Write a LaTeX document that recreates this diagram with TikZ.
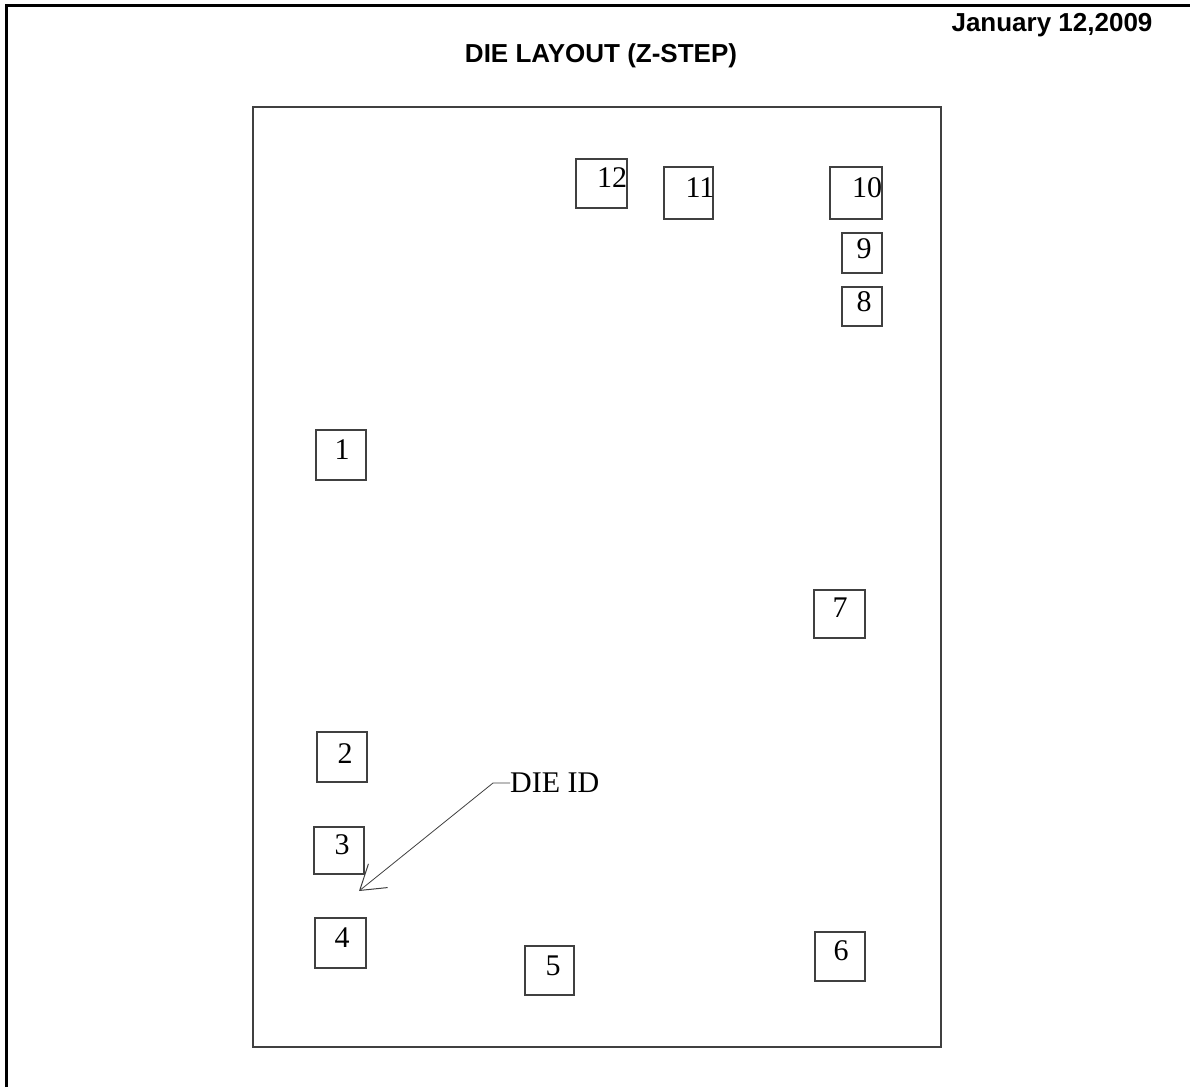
\documentclass[tikz,border=0pt]{standalone}
\usepackage{fontspec}
\setmainfont{Liberation Serif}
\newfontfamily\headfont{Liberation Sans Bold}
\usetikzlibrary{arrows.meta}

\begin{document}
\begin{tikzpicture}[x=1pt,y=-1pt,
  frame/.style={line width=3pt,black},
  dieline/.style={line width=1.6pt,black!75},
  padline/.style={line width=1.5pt,black!75},
  padnum/.style={inner sep=0pt,font=\fontsize{30}{30}\selectfont},
  heading/.style={inner sep=0pt,anchor=base,font=\headfont\fontsize{26}{30}\selectfont},
  idarrow/.style={line width=0.8pt,black!75,-{Straight Barb[angle=66:28pt,line width=1pt]}}]

\useasboundingbox (0,0) rectangle (1190,1087);
\draw[frame] (6,1087) -- (6,5) -- (1190,5);

\node[heading] (title) at (601,62) {DIE LAYOUT (Z-STEP)};
\node[heading] (date) at (1052,31) {January 12,2009};

\draw[dieline] (253,107) rectangle (941,1047);

\foreach \n/\xa/\ya/\xb/\yb/\lx/\ly in {
    12/576/159/627/208/612/178, 11/664/167/713/219/700/188,
    10/830/167/882/219/867/188, 9/842/233/882/273/864/249,
    8/842/287/882/326/864/302, 1/316/430/366/480/342/450,
    7/814/590/865/638/840/608, 2/317/732/367/782/345/754,
    3/314/827/364/874/342/845, 4/315/918/366/968/342/938,
    5/525/946/574/995/553/966, 6/815/932/865/981/841/951} {
    \draw[padline] (\xa,\ya) rectangle (\xb,\yb);
    \node[padnum] (pad\n) at (\lx,\ly) {\n};
}

\node[padnum,anchor=west] (dieid) at (510,783) {DIE ID};
\coordinate (idbend) at (493,783);
\coordinate (idtip) at (359,891);
\draw[idarrow] (dieid.west) -- (idbend) -- (idtip);

\end{tikzpicture}
\end{document}
